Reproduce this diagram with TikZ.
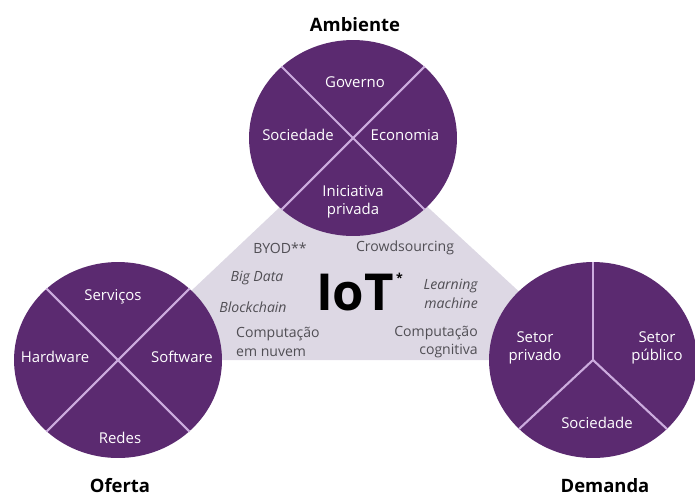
\documentclass[tikz,border=0pt]{standalone}
\usepackage{fontspec}
\setmainfont{Open Sans}
\usepackage{tikz}
\usetikzlibrary{shapes.geometric}
\usetikzlibrary{positioning}
\definecolor{iotpurple}{RGB}{91,42,112}
\definecolor{iotline}{RGB}{204,172,222}
\definecolor{iotgray}{RGB}{221,216,228}
\definecolor{iottext}{RGB}{80,78,84}
\tikzset{
  disc/.style={ellipse,fill=iotpurple,minimum width=4.16cm,minimum height=3.92cm,inner sep=0pt},
  seg/.style={draw=iotline,line width=1.2pt},
  inlbl/.style={text=white,align=center,font=\fontsize{8.5}{10.5}\selectfont},
  title/.style={text=black,font=\bfseries\fontsize{10.5}{12}\selectfont},
  trlbl/.style={text=iottext,font=\fontsize{8}{10.5}\selectfont}
}
\begin{document}
\begin{tikzpicture}[x=0.02cm,y=-0.02cm]
      \useasboundingbox (0,0) rectangle (695,498);
      \coordinate(cA) at (353,138);
      \coordinate(cO) at (118,360);
      \coordinate(cD) at (593,360);
      \fill[iotgray](cA)--(cO)--(cD)--cycle;
      %%
      \begin{scope}[shift={(353,138)}]
        \node[disc](A) at (0,0) {};
        \draw[seg](A.135)--(A.-45);
        \draw[seg](A.45)--(A.-135);
        \node[inlbl](A1) at (2,-56) {Governo};
        \node[inlbl](A2) at (-55,-3) {Sociedade};
        \node[inlbl](A3) at (52,-3) {Economia};
        \node[inlbl](A4) at (0,64) {Iniciativa\\privada};
        \node[title](At) at (2,-113) {Ambiente};
      \end{scope}
      %%
      \begin{scope}[shift={(118,360)}]
        \node[disc](O) at (0,0) {};
        \draw[seg](O.135)--(O.-45);
        \draw[seg](O.45)--(O.-135);
        \node[inlbl](O1) at (-5,-63) {Serviços};
        \node[inlbl](O2) at (-63,-3) {Hardware};
        \node[inlbl](O3) at (64,-3) {Software};
        \node[inlbl](O4) at (2,78) {Redes};
        \node[title](Ot) at (2,126) {Oferta};
      \end{scope}
      %%
      \begin{scope}[shift={(593,360)}]
        \node[disc](D) at (0,0) {};
        \draw[seg](D.center)--(D.90);
        \draw[seg](D.center)--(D.-137);
        \draw[seg](D.center)--(D.-43);
        \node[inlbl](D1) at (-58,-12) {Setor\\privado};
        \node[inlbl](D2) at (64,-12) {Setor\\público};
        \node[inlbl](D3) at (4,63) {Sociedade};
        \node[title](Dt) at (12,126) {Demanda};
      \end{scope}
      %%
      \node[text=black,font=\bfseries\fontsize{29}{32}\selectfont](IoT) at (355,293) {IoT\rlap{\smash{\raisebox{16pt}{\fontsize{7}{7}\selectfont\,*}}}};
      \node[trlbl](T1) at (280,248) {BYOD**};
      \node[trlbl](T2) at (405,248) {Crowdsourcing};
      \node[trlbl,font=\itshape\fontsize{8}{10.5}\selectfont](T3) at (257,278) {Big Data};
      \node[trlbl,font=\itshape\fontsize{8}{10.5}\selectfont](T4) at (253,307) {Blockchain};
      \node[trlbl,align=left,anchor=west](T5) at (230,342) {Computação\\em nuvem};
      \node[trlbl,align=right,anchor=east,font=\itshape\fontsize{8}{10.5}\selectfont](T6) at (484,294) {Learning\\machine};
      \node[trlbl,align=right,anchor=east](T7) at (484,342) {Computação\\cognitiva};
    \end{tikzpicture}
\end{document}
